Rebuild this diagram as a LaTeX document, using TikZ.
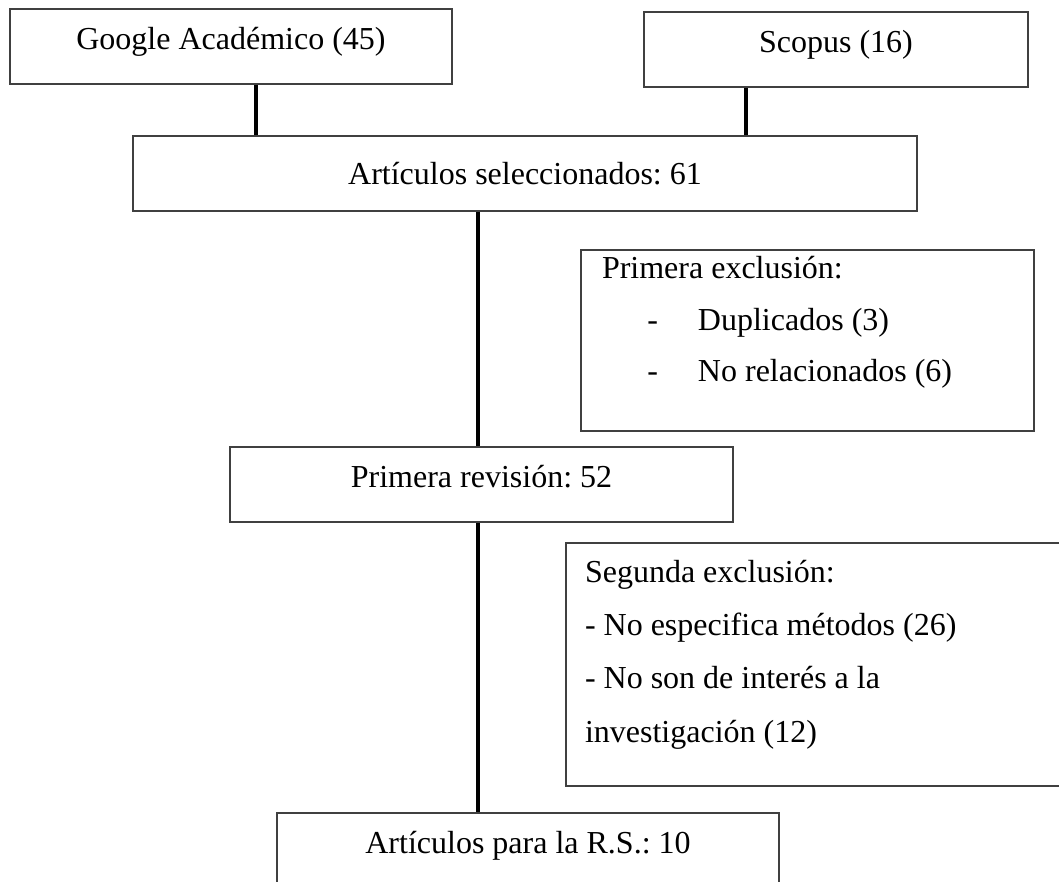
\documentclass[tikz,border=0pt]{standalone}
\usepackage{fontspec}
\setmainfont{Liberation Serif}
\usetikzlibrary{calc}
\frenchspacing

\begin{document}
\begin{tikzpicture}[x=1pt,y=-1pt,semithick]
  \tikzstyle{caja}=[draw=black!75,line width=0.5pt,rectangle,minimum height=28.125pt,
                    text height=8.5pt,text depth=6pt,font=\fontsize{12}{14}\selectfont]
  \tikzstyle{lista}=[draw=black!75,line width=0.5pt,rectangle,align=flush left,inner ysep=0pt]
  \tikzstyle{conector}=[line width=1.5pt]

  \clip (0,0) rectangle (397.125,330.75);

  \node[caja,minimum width=165.75pt]		(google)	at (86.625,17.44)	{Google Académico (45)};
  \node[caja,minimum width=144pt]		(scopus)	at (313.5,18.56)	{Scopus (16)};
  \node[caja,minimum width=294pt,text depth=0pt]	(sel)	at (196.875,65.06)	{Artículos seleccionados: 61};
  \node[caja,minimum width=188.625pt]		(rev)		at (180.56,181.69)	{Primera revisión: 52};
  \node[caja,minimum width=188.25pt]		(final)		at (198,318.94)		{Artículos para la R.S.: 10};

  \node[lista,minimum width=169.875pt,minimum height=67.875pt,text width=154.125pt,
        inner xsep=7.875pt,font=\fontsize{12}{19.3}\selectfont] (excl1) at (302.81,127.69)
    {Primera exclusión:\\
     \makebox[36pt][l]{\hspace{17pt}-}Duplicados (3)\\
     \makebox[36pt][l]{\hspace{17pt}-}No relacionados (6)\rule[-16pt]{0pt}{16pt}};
  \node[lista,minimum width=190.875pt,minimum height=91.125pt,text width=176.625pt,
        inner xsep=7.125pt,font=\fontsize{12}{20}\selectfont] (excl2) at (307.69,249.19)
    {Segunda exclusión:\\
     - No especifica métodos (26)\\
     - No son de interés a la\\
     investigación (12)\rule[-10pt]{0pt}{10pt}};

  \coordinate (eje) at (179.25,0);

  \path ([xshift=9.375pt]google.south) edge[conector] ([xshift=9.375pt]google.south |- sel.north);
  \path ([xshift=-33.75pt]scopus.south) edge[conector] ([xshift=-33.75pt]scopus.south |- sel.north);
  \path (sel.south -| eje) edge[conector] (rev.north -| eje);
  \path (rev.south -| eje) edge[conector] (final.north -| eje);

\end{tikzpicture}
\end{document}
